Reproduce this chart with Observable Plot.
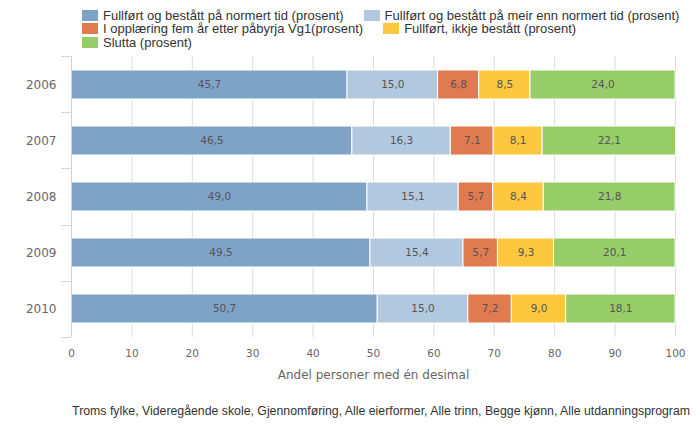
<!DOCTYPE html>
<html>
<head>
<meta charset="utf-8">
<script src="https://cdn.jsdelivr.net/npm/d3@7"></script>
<script src="https://cdn.jsdelivr.net/npm/@observablehq/plot@0.6"></script>
<style>
  html, body { margin: 0; padding: 0; background: #fff; }
  #wrap { position: relative; width: 700px; height: 442px; overflow: hidden; }
  #legend { position: absolute; left: 82px; top: 9px; width: 600px; display: flex; flex-wrap: wrap; column-gap: 20px; row-gap: 1.5px;
            font-family: "Liberation Sans", Arial, sans-serif; font-size: 13px; color: #333; }
  .item { display: flex; align-items: center; height: 12px; white-space: nowrap; }
  .sw { width: 16px; height: 11px; margin-right: 5px; flex: none; }
  #chart { position: absolute; left: 0; top: 52px; }
  #caption { position: absolute; right: 10px; top: 404px; font-family: "Liberation Sans", Arial, sans-serif; font-size: 12.3px; color: #333; white-space: nowrap; }
</style>
</head>
<body>
<div id="wrap">
  <div id="legend"></div>
  <div id="chart"></div>
  <div id="caption"></div>
</div>
<script>
const years = ["2006", "2007", "2008", "2009", "2010"];
const seriesNames = [
  "Fullført og bestått på normert tid (prosent)",
  "Fullført og bestått på meir enn normert tid (prosent)",
  "I opplæring fem år etter påbyrja Vg1(prosent)",
  "Fullført, ikkje bestått (prosent)",
  "Slutta (prosent)"
];
const colors = ["#7fa2c7", "#b2c8de", "#e07b4f", "#fdc740", "#96cd69"];
const normertTid      = [45.7, 46.5, 49.0, 49.5, 50.7];
const meirEnnNormert  = [15.0, 16.3, 15.1, 15.4, 15.0];
const iOpplaering     = [6.8, 7.1, 5.7, 5.7, 7.2];
const ikkjeBestatt    = [8.5, 8.1, 8.4, 9.3, 9.0];
const slutta          = [24.0, 22.1, 21.8, 20.1, 18.1];
const xTicks = [0, 10, 20, 30, 40, 50, 60, 70, 80, 90, 100];
const xTitle = "Andel personer med én desimal";
const captionText = "Troms fylke, Videregående skole, Gjennomføring, Alle eierformer, Alle trinn, Begge kjønn, Alle utdanningsprogram";

const seriesValues = [normertTid, meirEnnNormert, iOpplaering, ikkjeBestatt, slutta];
const rows = [];
seriesNames.forEach((s, si) => {
  years.forEach((y, yi) => rows.push({series: s, year: y, value: seriesValues[si][yi]}));
});

const fmt = v => v.toFixed(1).replace(".", ",");

// band-boundary tick marks on the category axis
function bandTicks(index, scales, values, dimensions) {
  const {marginTop, marginBottom, marginLeft, height} = dimensions;
  const n = years.length;
  const h = (height - marginTop - marginBottom) / n;
  const g = d3.create("svg:g").attr("stroke", "#ccd6eb").attr("stroke-width", 1);
  for (let i = 0; i <= n; i++) {
    const yy = Math.round(marginTop + i * h) + 0.5;
    g.append("line").attr("x1", marginLeft - 10).attr("x2", marginLeft).attr("y1", yy).attr("y2", yy);
  }
  g.append("line").attr("x1", marginLeft + 0.5).attr("x2", marginLeft + 0.5)
    .attr("y1", marginTop).attr("y2", height - marginBottom);
  return g.node();
}

const chart = Plot.plot({
  width: 700,
  height: 340,
  marginLeft: 71,
  marginRight: 25,
  marginTop: 4,
  marginBottom: 55,
  style: {fontFamily: "'DejaVu Sans', Verdana, sans-serif", background: "#fff"},
  x: {domain: [0, 100]},
  y: {domain: years, paddingInner: 0.475, paddingOuter: 0.2375},
  color: {domain: seriesNames, range: colors},
  marks: [
    Plot.ruleX(xTicks.filter(d => d > 0), {stroke: "#dcdcdc", strokeWidth: 1}),
    Plot.barX(rows, Plot.stackX({x: "value", y: "year", fill: "series", stroke: "#fff", strokeWidth: 1})),
    Plot.text(rows, Plot.stackX({x: "value", y: "year", z: "series", text: d => fmt(d.value), fill: "#555", fontSize: 10.5})),
    bandTicks,
    Plot.axisY({tickSize: 0, tickPadding: 15, fontSize: 12, color: "#666", label: null}),
    Plot.axisX({ticks: xTicks, tickSize: 0, tickPadding: 12, fontSize: 10.5, color: "#666", label: null, tickFormat: d => String(d)}),
    Plot.text([xTitle], {frameAnchor: "bottom", dy: 38, lineAnchor: "middle", fill: "#666", fontSize: 12})
  ]
});
document.getElementById("chart").appendChild(chart);

const legend = document.getElementById("legend");
seriesNames.forEach((s, i) => {
  const it = document.createElement("div");
  it.className = "item";
  const sw = document.createElement("span");
  sw.className = "sw";
  sw.style.background = colors[i];
  const tx = document.createElement("span");
  tx.textContent = s;
  it.appendChild(sw); it.appendChild(tx);
  legend.appendChild(it);
});
document.getElementById("caption").textContent = captionText;
</script>
</body>
</html>
